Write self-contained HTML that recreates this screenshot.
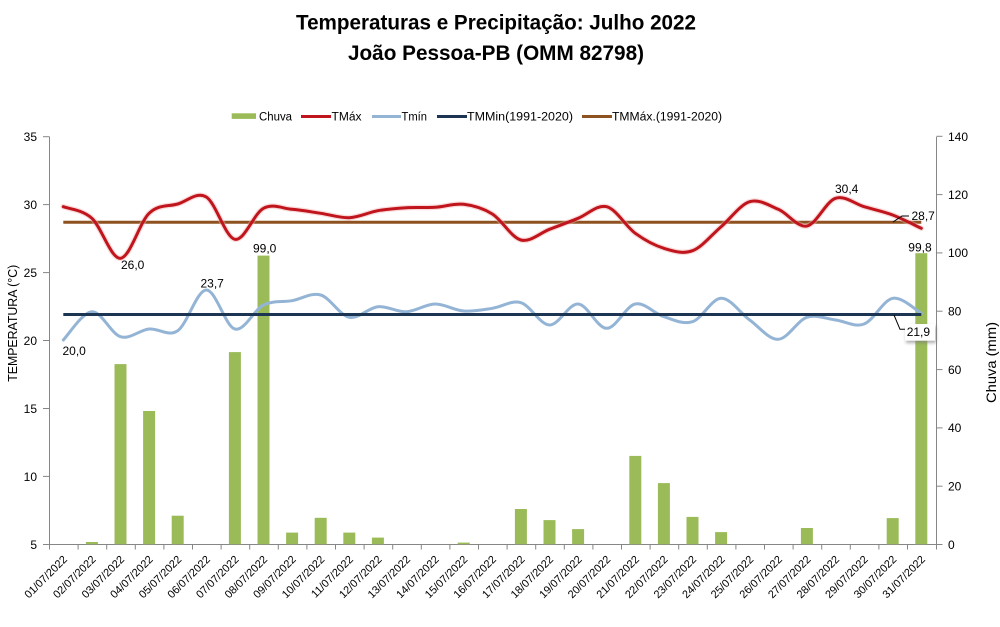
<!DOCTYPE html>
<html>
<head>
<meta charset="utf-8">
<style>
  html,body{margin:0;padding:0;background:#fff;}
  svg{display:block;}
  text{font-family:"Liberation Sans",Arial,sans-serif;fill:#000;}
</style>
</head>
<body>
<svg width="1000" height="627" viewBox="0 0 1000 627" xmlns="http://www.w3.org/2000/svg">
  <defs>
    <filter id="sh" x="-30%" y="-30%" width="160%" height="160%">
      <feGaussianBlur stdDeviation="1.5"/>
    </filter>
  </defs>
  <rect width="1000" height="627" fill="#fff"/>

  <!-- Title -->
  <text x="496" y="29.5" text-anchor="middle" font-size="21" font-weight="bold" textLength="400" lengthAdjust="spacingAndGlyphs">Temperaturas e Precipitação: Julho 2022</text>
  <text x="496" y="60" text-anchor="middle" font-size="21" font-weight="bold" textLength="296" lengthAdjust="spacingAndGlyphs">João Pessoa-PB (OMM 82798)</text>

  <!-- Legend -->
  <rect x="231.7" y="113.3" width="24.3" height="5.6" fill="#9BBB59"/>
  <text x="259" y="120.5" font-size="11.5" textLength="33" lengthAdjust="spacingAndGlyphs">Chuva</text>
  <line x1="301" y1="116.5" x2="331" y2="116.5" stroke="#C0151C" stroke-width="3"/>
  <text x="331.5" y="120.5" font-size="11.5" textLength="30" lengthAdjust="spacingAndGlyphs">TMáx</text>
  <line x1="372" y1="116.5" x2="401" y2="116.5" stroke="#94B4D6" stroke-width="3"/>
  <text x="401.5" y="120.5" font-size="11.5" textLength="25.5" lengthAdjust="spacingAndGlyphs">Tmín</text>
  <line x1="437" y1="116.5" x2="467" y2="116.5" stroke="#1C3553" stroke-width="3"/>
  <text x="467" y="120.5" font-size="11.5" textLength="106" lengthAdjust="spacingAndGlyphs">TMMin(1991-2020)</text>
  <line x1="582" y1="116.5" x2="612" y2="116.5" stroke="#8E5120" stroke-width="3"/>
  <text x="612" y="120.5" font-size="11.5" textLength="110" lengthAdjust="spacingAndGlyphs">TMMáx.(1991-2020)</text>

  <!-- Axes -->
  <g stroke="#868686" stroke-width="1" fill="none">
    <line x1="49.5" y1="136.7" x2="49.5" y2="544.5"/>
    <line x1="936.5" y1="136.7" x2="936.5" y2="544.5"/>
    <line x1="49" y1="544.5" x2="937" y2="544.5"/>
    <line x1="43" y1="136.7" x2="49.5" y2="136.7"/>
    <line x1="43" y1="204.6" x2="49.5" y2="204.6"/>
    <line x1="43" y1="272.6" x2="49.5" y2="272.6"/>
    <line x1="43" y1="340.5" x2="49.5" y2="340.5"/>
    <line x1="43" y1="408.5" x2="49.5" y2="408.5"/>
    <line x1="43" y1="476.4" x2="49.5" y2="476.4"/>
    <line x1="43" y1="544.5" x2="49.5" y2="544.5"/>
    <line x1="936.5" y1="136.3" x2="942.5" y2="136.3"/>
    <line x1="936.5" y1="194.6" x2="942.5" y2="194.6"/>
    <line x1="936.5" y1="252.9" x2="942.5" y2="252.9"/>
    <line x1="936.5" y1="311.2" x2="942.5" y2="311.2"/>
    <line x1="936.5" y1="369.6" x2="942.5" y2="369.6"/>
    <line x1="936.5" y1="427.9" x2="942.5" y2="427.9"/>
    <line x1="936.5" y1="486.2" x2="942.5" y2="486.2"/>
    <line x1="936.5" y1="544.5" x2="942.5" y2="544.5"/>
    <path d="M49.5,544.5v5 M78.1,544.5v5 M106.7,544.5v5 M135.3,544.5v5 M163.9,544.5v5 M192.5,544.5v5 M221.1,544.5v5 M249.7,544.5v5 M278.3,544.5v5 M306.9,544.5v5 M335.5,544.5v5 M364.1,544.5v5 M392.7,544.5v5 M421.3,544.5v5 M449.9,544.5v5 M478.5,544.5v5 M507.1,544.5v5 M535.7,544.5v5 M564.3,544.5v5 M592.9,544.5v5 M621.5,544.5v5 M650.1,544.5v5 M678.7,544.5v5 M707.3,544.5v5 M735.9,544.5v5 M764.5,544.5v5 M793.1,544.5v5 M821.7,544.5v5 M850.3,544.5v5 M878.9,544.5v5 M907.5,544.5v5 M936.5,544.5v5"/>
  </g>

  <!-- Left axis labels -->
  <g font-size="12" text-anchor="end">
    <text x="37" y="141">35</text>
    <text x="37" y="209">30</text>
    <text x="37" y="277">25</text>
    <text x="37" y="345">20</text>
    <text x="37" y="413">15</text>
    <text x="37" y="481">10</text>
    <text x="37" y="549">5</text>
  </g>
  <!-- Right axis labels -->
  <g font-size="12">
    <text x="948" y="141">140</text>
    <text x="948" y="199">120</text>
    <text x="948" y="257">100</text>
    <text x="948" y="315.5">80</text>
    <text x="948" y="374">60</text>
    <text x="948" y="432">40</text>
    <text x="948" y="490.5">20</text>
    <text x="948" y="549">0</text>
  </g>

  <!-- Axis titles -->
  <text transform="translate(17,323.3) rotate(-90)" text-anchor="middle" font-size="13" textLength="117" lengthAdjust="spacingAndGlyphs">TEMPERATURA (°C)</text>
  <text transform="translate(996,362.5) rotate(-90)" text-anchor="middle" font-size="14" textLength="81" lengthAdjust="spacingAndGlyphs">Chuva (mm)</text>

  <!-- X labels -->
  <g font-size="11" text-anchor="end">
    <text transform="translate(67.8,560) rotate(-45)">01/07/2022</text>
    <text transform="translate(96.4,560) rotate(-45)">02/07/2022</text>
    <text transform="translate(125,560) rotate(-45)">03/07/2022</text>
    <text transform="translate(153.6,560) rotate(-45)">04/07/2022</text>
    <text transform="translate(182.2,560) rotate(-45)">05/07/2022</text>
    <text transform="translate(210.8,560) rotate(-45)">06/07/2022</text>
    <text transform="translate(239.4,560) rotate(-45)">07/07/2022</text>
    <text transform="translate(268,560) rotate(-45)">08/07/2022</text>
    <text transform="translate(296.6,560) rotate(-45)">09/07/2022</text>
    <text transform="translate(325.2,560) rotate(-45)">10/07/2022</text>
    <text transform="translate(353.8,560) rotate(-45)">11/07/2022</text>
    <text transform="translate(382.4,560) rotate(-45)">12/07/2022</text>
    <text transform="translate(411,560) rotate(-45)">13/07/2022</text>
    <text transform="translate(439.6,560) rotate(-45)">14/07/2022</text>
    <text transform="translate(468.2,560) rotate(-45)">15/07/2022</text>
    <text transform="translate(496.8,560) rotate(-45)">16/07/2022</text>
    <text transform="translate(525.4,560) rotate(-45)">17/07/2022</text>
    <text transform="translate(554,560) rotate(-45)">18/07/2022</text>
    <text transform="translate(582.6,560) rotate(-45)">19/07/2022</text>
    <text transform="translate(611.2,560) rotate(-45)">20/07/2022</text>
    <text transform="translate(639.8,560) rotate(-45)">21/07/2022</text>
    <text transform="translate(668.4,560) rotate(-45)">22/07/2022</text>
    <text transform="translate(697,560) rotate(-45)">23/07/2022</text>
    <text transform="translate(725.6,560) rotate(-45)">24/07/2022</text>
    <text transform="translate(754.2,560) rotate(-45)">25/07/2022</text>
    <text transform="translate(782.8,560) rotate(-45)">26/07/2022</text>
    <text transform="translate(811.4,560) rotate(-45)">27/07/2022</text>
    <text transform="translate(840,560) rotate(-45)">28/07/2022</text>
    <text transform="translate(868.6,560) rotate(-45)">29/07/2022</text>
    <text transform="translate(897.2,560) rotate(-45)">30/07/2022</text>
    <text transform="translate(925.8,560) rotate(-45)">31/07/2022</text>
  </g>

  <!-- Bars -->
  <g fill="#9BBB59">
    <rect x="85.9" y="542" width="12" height="2.3"/>
    <rect x="114.5" y="364.1" width="12" height="180.2"/>
    <rect x="143.1" y="411" width="12" height="133.3"/>
    <rect x="171.7" y="515.7" width="12" height="28.6"/>
    <rect x="228.9" y="352.1" width="12" height="192.2"/>
    <rect x="257.5" y="255.6" width="12" height="288.7"/>
    <rect x="286.1" y="532.6" width="12" height="11.7"/>
    <rect x="314.7" y="517.8" width="12" height="26.5"/>
    <rect x="343.3" y="532.6" width="12" height="11.7"/>
    <rect x="371.9" y="537.6" width="12" height="6.7"/>
    <rect x="457.7" y="542.6" width="12" height="1.7"/>
    <rect x="514.9" y="509" width="12" height="35.3"/>
    <rect x="543.5" y="520.1" width="12" height="24.2"/>
    <rect x="572.1" y="529.1" width="12" height="15.2"/>
    <rect x="629.3" y="455.9" width="12" height="88.4"/>
    <rect x="657.9" y="483.1" width="12" height="61.2"/>
    <rect x="686.5" y="516.9" width="12" height="27.4"/>
    <rect x="715.1" y="532.1" width="12" height="12.2"/>
    <rect x="800.9" y="528" width="12" height="16.3"/>
    <rect x="886.7" y="518.1" width="12" height="26.2"/>
    <rect x="915.3" y="253.2" width="12" height="291.1"/>
  </g>

  <!-- Tmin -->
  <path fill="none" stroke="#94B4D6" stroke-width="3" stroke-linejoin="round" stroke-linecap="round"
    d="M63.3,340 C68.1,335.3 82.4,312.3 91.9,311.7 S111,333.8 120.5,336.7 S139.6,330 149.1,329 S168.2,337.2 177.7,330.7 S196.8,290.3 206.3,290 S225.4,326.5 234.9,329 S254,309.7 263.5,305 S282.6,302.4 292.1,300.7 S311.2,292.2 320.7,295 S339.8,315.4 349.3,317.3 S368.4,307.6 377.9,306.7 S397,312.2 406.5,311.7 S425.6,304.1 435.1,304 S454.2,310.3 463.7,311 S482.8,309.7 492.3,308.3 S511.4,299.9 520.9,302.7 S540,324.8 549.5,325 S568.6,303.5 578.1,304 S597.2,328.3 606.7,328.3 S625.8,305.9 635.3,304 S654.4,313.8 663.9,316.7 S683,324.8 692.5,321.7 S711.6,298.6 721.1,298.3 S740.2,313.2 749.7,320 S768.8,339.8 778.3,339.3 S797.4,320.5 806.9,317.3 S826,318.9 835.5,320 S854.6,327.6 864.1,324 S883.2,300.1 892.7,298.3 S916.5,310.8 921.3,313.3"/>

  <!-- TMMin / TMMax normals -->
  <line x1="63.3" y1="314.5" x2="921.3" y2="314.5" stroke="#1C3553" stroke-width="3"/>
  <line x1="63.3" y1="222.3" x2="921.3" y2="222.3" stroke="#8E5120" stroke-width="3"/>

  <!-- TMax with glow -->
  <path fill="none" stroke="#F2B0B0" stroke-opacity="0.45" stroke-width="5.5" stroke-linejoin="round" stroke-linecap="round"
    d="M63.3,206.7 C68.1,208.6 82.4,209.7 91.9,218.3 S111,259.1 120.5,258.3 S139.6,222.4 149.1,213.3 S168.2,206.7 177.7,204 S196.8,191.1 206.3,197 S225.4,237.4 234.9,239.3 S254,213.3 263.5,208.3 S282.6,208.5 292.1,209.3 S311.2,211.9 320.7,213.3 S339.8,218.1 349.3,217.7 S368.4,212.4 377.9,210.7 S397,208.3 406.5,207.7 S425.6,207.9 435.1,207.3 S454.2,203.2 463.7,204.3 S482.8,208.1 492.3,214 S511.4,237.5 520.9,240 S540,232.9 549.5,229.3 S568.6,222.1 578.1,218.3 S597.2,204.2 606.7,206.7 S625.8,226.4 635.3,233.3 S654.4,245.4 663.9,248.3 S683,254.3 692.5,250.7 S711.6,234.9 721.1,226.7 S740.2,204.6 749.7,201.7 S768.8,205.3 778.3,209.3 S797.4,227.8 806.9,226 S826,201.5 835.5,198.3 S854.6,203.9 864.1,206.7 S883.2,211.4 892.7,215 S916.5,226.1 921.3,228.3"/>
  <path fill="none" stroke="#C0151C" stroke-width="3" stroke-linejoin="round" stroke-linecap="round"
    d="M63.3,206.7 C68.1,208.6 82.4,209.7 91.9,218.3 S111,259.1 120.5,258.3 S139.6,222.4 149.1,213.3 S168.2,206.7 177.7,204 S196.8,191.1 206.3,197 S225.4,237.4 234.9,239.3 S254,213.3 263.5,208.3 S282.6,208.5 292.1,209.3 S311.2,211.9 320.7,213.3 S339.8,218.1 349.3,217.7 S368.4,212.4 377.9,210.7 S397,208.3 406.5,207.7 S425.6,207.9 435.1,207.3 S454.2,203.2 463.7,204.3 S482.8,208.1 492.3,214 S511.4,237.5 520.9,240 S540,232.9 549.5,229.3 S568.6,222.1 578.1,218.3 S597.2,204.2 606.7,206.7 S625.8,226.4 635.3,233.3 S654.4,245.4 663.9,248.3 S683,254.3 692.5,250.7 S711.6,234.9 721.1,226.7 S740.2,204.6 749.7,201.7 S768.8,205.3 778.3,209.3 S797.4,227.8 806.9,226 S826,201.5 835.5,198.3 S854.6,203.9 864.1,206.7 S883.2,211.4 892.7,215 S916.5,226.1 921.3,228.3"/>

  <!-- Data labels -->
  <g font-size="12">
    <text x="121" y="269">26,0</text>
    <text x="200.5" y="287.5">23,7</text>
    <text x="253" y="252.5">99,0</text>
    <text x="62.5" y="355">20,0</text>
    <text x="835" y="193">30,4</text>
    <text x="911.5" y="220">28,7</text>
    <text x="908.3" y="251.5">99,8</text>
  </g>
  <path d="M893,222 L902,216 L909,216" fill="none" stroke="#000" stroke-width="1"/>
  <path d="M894,315 L900,329.3 L905,329.3" fill="none" stroke="#000" stroke-width="1"/>
  <rect x="906" y="326" width="30" height="17" fill="#777" opacity="0.6" filter="url(#sh)"/>
  <rect x="905" y="324" width="30" height="16.7" fill="#fff"/>
  <text x="906.7" y="336" font-size="12">21,9</text>
</svg>
</body>
</html>
